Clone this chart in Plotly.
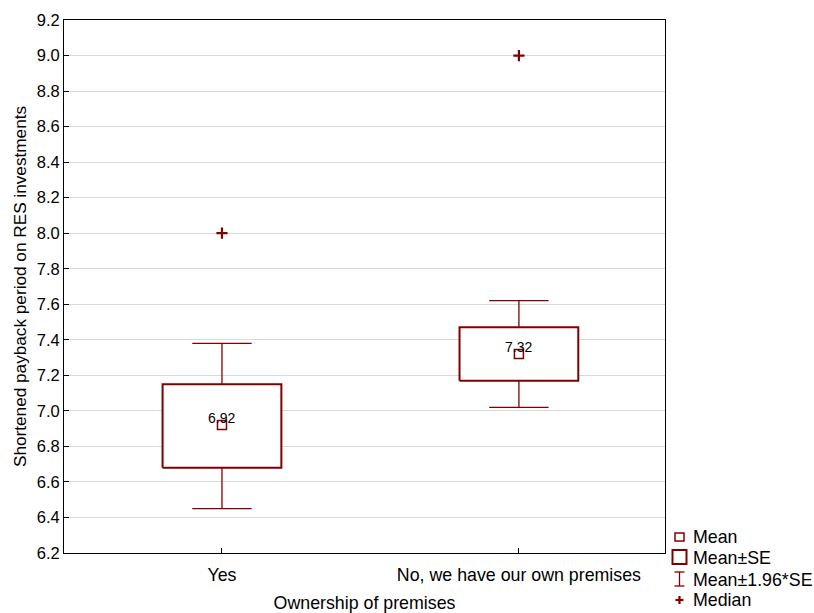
import plotly.graph_objects as go

categories = ["Yes", "No, we have our own premises"]
means = [6.92, 7.32]
se_low = [6.68, 7.17]
se_high = [7.15, 7.47]
ci_low = [6.45, 7.02]
ci_high = [7.38, 7.62]
medians = [8.0, 9.0]
mean_labels = ["6.92", "7.32"]

y_ticks = [6.2 + 0.2 * i for i in range(16)]

RED = "#800000"
FONT = "Liberation Sans, Arial, sans-serif"

# figure geometry (pixels)
W, H = 814, 613
L, R, T, B = 64, 665, 20, 553

def px(x):
    return (x - L) / (R - L)

def py(y):
    return (B - y) / (B - T)

fig = go.Figure()
pos = list(range(len(categories)))
box_hw = 0.2
cap_hw = 0.1

for i, c in enumerate(pos):
    # whisker line
    fig.add_trace(go.Scatter(
        x=[c, c, None, c - cap_hw, c + cap_hw, None, c - cap_hw, c + cap_hw],
        y=[ci_low[i], ci_high[i], None, ci_low[i], ci_low[i], None, ci_high[i], ci_high[i]],
        mode="lines", line=dict(color=RED, width=1.3), showlegend=False, hoverinfo="skip"))
    # SE box
    fig.add_trace(go.Scatter(
        x=[c - box_hw, c + box_hw, c + box_hw, c - box_hw, c - box_hw],
        y=[se_low[i], se_low[i], se_high[i], se_high[i], se_low[i]],
        mode="lines", fill="toself", fillcolor="white",
        line=dict(color=RED, width=2), showlegend=False, hoverinfo="skip"))

# means
fig.add_trace(go.Scatter(
    x=pos, y=means, mode="markers",
    marker=dict(symbol="square-open", size=9, color=RED, line=dict(width=1.5, color=RED)),
    showlegend=False))
# medians
fig.add_trace(go.Scatter(
    x=pos, y=medians, mode="markers",
    marker=dict(symbol="cross-thin", size=8, color=RED, line=dict(width=2.2, color=RED)),
    showlegend=False))

annotations = []
for i, c in enumerate(pos):
    annotations.append(dict(x=c, y=means[i], text=mean_labels[i], showarrow=False,
                            yshift=7, font=dict(size=14, color="black", family=FONT)))

# manual legend
shapes = []
lx = 679.5
# Mean small square
shapes.append(dict(type="rect", xref="paper", yref="paper",
                   x0=px(lx - 4.5), x1=px(lx + 4.5), y0=py(541), y1=py(533),
                   line=dict(color=RED, width=1.5)))
# Mean±SE square
shapes.append(dict(type="rect", xref="paper", yref="paper",
                   x0=px(lx - 7), x1=px(lx + 7), y0=py(564), y1=py(550),
                   line=dict(color=RED, width=2)))
# I-beam
for seg in [((lx, 572), (lx, 586)), ((lx - 5, 572), (lx + 5, 572)), ((lx - 5, 586), (lx + 5, 586))]:
    shapes.append(dict(type="line", xref="paper", yref="paper",
                       x0=px(seg[0][0]), y0=py(seg[0][1]), x1=px(seg[1][0]), y1=py(seg[1][1]),
                       line=dict(color=RED, width=1.3)))
# Median plus
for seg in [((lx - 4, 600), (lx + 4, 600)), ((lx, 596), (lx, 604))]:
    shapes.append(dict(type="line", xref="paper", yref="paper",
                       x0=px(seg[0][0]), y0=py(seg[0][1]), x1=px(seg[1][0]), y1=py(seg[1][1]),
                       line=dict(color=RED, width=2.2)))

legend_texts = ["Mean", "Mean±SE", "Mean±1.96*SE", "Median"]
legend_ys = [537, 558, 580, 600]
for t, yy in zip(legend_texts, legend_ys):
    annotations.append(dict(xref="paper", yref="paper", x=px(691), y=py(yy), text=t,
                            showarrow=False, xanchor="left", yanchor="middle",
                            font=dict(size=17.8, color="black", family=FONT)))

fig.update_layout(
    width=W, height=H,
    margin=dict(l=L, r=W - R, t=T, b=H - B, pad=0, autoexpand=False),
    paper_bgcolor="white", plot_bgcolor="white",
    font=dict(family=FONT, size=16, color="black"),
    shapes=shapes, annotations=annotations, showlegend=False,
)
fig.update_xaxes(
    range=[-0.532, 1.492], tickvals=pos, ticktext=categories,
    ticks="inside", ticklen=5, tickcolor="black", showgrid=False, zeroline=False,
    showline=True, linecolor="black", linewidth=1, mirror=True, automargin=False,
    ticklabelstandoff=6,
    title=dict(text="Ownership of premises", standoff=12, font=dict(size=17.8)),
    tickfont=dict(size=17.8),
)
fig.update_yaxes(
    range=[6.2, 9.2], tickvals=y_ticks, ticktext=[f"{v:.1f}" for v in y_ticks],
    ticks="inside", ticklen=5, tickcolor="black", automargin=False,
    showgrid=True, gridcolor="#d9d9d9", gridwidth=1, zeroline=False,
    showline=True, linecolor="black", linewidth=1, mirror=True,
    title=dict(text="Shortened payback period on RES investments", standoff=5, font=dict(size=17.2)),
    tickfont=dict(size=16.5),
)

fig.write_html("out.html")
